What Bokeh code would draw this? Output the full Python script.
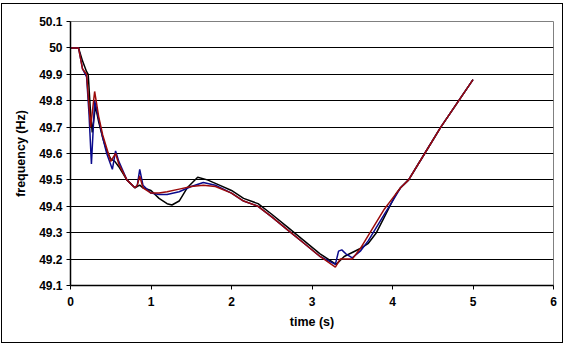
from bokeh.plotting import figure
from bokeh.models import FixedTicker, Range1d
from bokeh.embed import file_html
from bokeh.resources import INLINE

# ---- data ----
t_black = [0, 0.1, 0.15, 0.2, 0.22, 0.25, 0.27, 0.31, 0.35, 0.4, 0.45, 0.5, 0.55, 0.6, 0.7, 0.8, 0.86, 0.9,
           1.0, 1.1, 1.2, 1.26, 1.35, 1.45, 1.58, 1.7, 1.85, 2.0, 2.15, 2.33, 2.5, 2.7, 2.9, 3.1, 3.3,
           3.4, 3.5, 3.6, 3.7, 3.8, 3.9, 4.0, 4.05, 4.1, 4.2, 4.4, 4.6, 4.8, 5.0]
f_black = [50, 50, 49.95, 49.91, 49.9, 49.75, 49.68, 49.78, 49.72, 49.66, 49.61, 49.58, 49.57, 49.55, 49.5,
           49.47, 49.48, 49.47, 49.46, 49.43, 49.41, 49.405, 49.42, 49.47, 49.51, 49.5, 49.48, 49.46, 49.43,
           49.41, 49.37, 49.32, 49.27, 49.22, 49.18, 49.21, 49.225, 49.24, 49.26, 49.3, 49.36, 49.42, 49.45,
           49.47, 49.5, 49.6, 49.7, 49.79, 49.88]

t_blue = [0, 0.1, 0.15, 0.2, 0.23, 0.26, 0.3, 0.35, 0.4, 0.45, 0.52, 0.56, 0.6, 0.7, 0.8, 0.83, 0.86, 0.9,
          1.0, 1.1, 1.2, 1.35, 1.5, 1.65, 1.8, 2.0, 2.15, 2.33, 2.5, 2.7, 2.9, 3.1, 3.29, 3.33, 3.37, 3.42,
          3.5, 3.6, 3.7, 3.8, 3.9, 4.0, 4.1, 4.2, 4.4, 4.6, 4.8, 5.0]
f_blue = [50, 50, 49.92, 49.89, 49.75, 49.56, 49.8, 49.73, 49.66, 49.6, 49.54, 49.61, 49.57, 49.5, 49.47,
          49.48, 49.54, 49.48, 49.45, 49.445, 49.445, 49.455, 49.475, 49.49, 49.48, 49.45, 49.42, 49.4,
          49.36, 49.31, 49.26, 49.21, 49.18, 49.23, 49.235, 49.22, 49.205, 49.23, 49.27, 49.32, 49.37,
          49.42, 49.47, 49.5, 49.6, 49.7, 49.79, 49.88]

t_red = [0, 0.1, 0.15, 0.2, 0.25, 0.3, 0.35, 0.4, 0.45, 0.5, 0.56, 0.6, 0.7, 0.8, 0.83, 0.86, 0.9, 1.0,
         1.1, 1.2, 1.35, 1.5, 1.65, 1.8, 2.0, 2.15, 2.33, 2.5, 2.7, 2.9, 3.1, 3.29, 3.35, 3.45, 3.5, 3.6,
         3.7, 3.8, 3.9, 4.0, 4.1, 4.2, 4.4, 4.6, 4.8, 5.0]
f_red = [50, 50, 49.92, 49.9, 49.7, 49.835, 49.74, 49.67, 49.62, 49.57, 49.6, 49.56, 49.5, 49.47, 49.48,
         49.515, 49.47, 49.45, 49.45, 49.455, 49.465, 49.475, 49.48, 49.475, 49.45, 49.42, 49.4, 49.36,
         49.31, 49.26, 49.21, 49.17, 49.2, 49.2, 49.2, 49.24, 49.29, 49.34, 49.39, 49.43, 49.47, 49.5,
         49.6, 49.7, 49.79, 49.88]

x_ticks = [0, 1, 2, 3, 4, 5, 6]
y_ticks = [49.1, 49.2, 49.3, 49.4, 49.5, 49.6, 49.7, 49.8, 49.9, 50.0, 50.1]
y_tick_labels = ["49.1", "49.2", "49.3", "49.4", "49.5", "49.6", "49.7", "49.8", "49.9", "50", "50.1"]

p = figure(width=562, height=340, output_backend="svg", toolbar_location=None,
           x_range=Range1d(0, 6), y_range=Range1d(49.1, 50.1),
           min_border_left=68, min_border_right=11, min_border_top=17, min_border_bottom=59)
p.styles = {"border": "1px solid black", "box-sizing": "border-box",
            "margin-left": "1px", "margin-top": "3px"}

p.line(t_black, f_black, line_color="black", line_width=1.5)
p.line(t_blue, f_blue, line_color="#0a0a8c", line_width=1.5)
p.line(t_red, f_red, line_color="#9b0a0a", line_width=1.5)

p.xgrid.visible = False
p.ygrid.ticker = FixedTicker(ticks=y_ticks)
p.ygrid.grid_line_color = "black"
p.ygrid.grid_line_width = 1
p.outline_line_color = "#808080"

p.xaxis.ticker = FixedTicker(ticks=x_ticks)
p.yaxis.ticker = FixedTicker(ticks=y_ticks)
p.yaxis.major_label_overrides = {v: s for v, s in zip(y_ticks, y_tick_labels)}
for ax in (p.xaxis, p.yaxis):
    ax.axis_line_color = "black"
    ax.axis_line_width = 1.5
    ax.major_tick_line_color = "black"
    ax.major_tick_out = 4
    ax.major_tick_in = 0
    ax.minor_tick_line_color = None
    ax.major_label_text_font = "Liberation Sans"
    ax.major_label_text_font_style = "bold"
    ax.major_label_text_font_size = "12px"
    ax.major_label_text_color = "black"
    ax.axis_label_text_font = "Liberation Sans"
    ax.axis_label_text_font_style = "bold"
    ax.axis_label_text_font_size = "12.5px"
    ax.axis_label_text_color = "black"
p.xaxis.axis_label = "time (s)"
p.yaxis.axis_label = "frequency (Hz)"
p.xaxis.major_label_standoff = 7
p.xaxis.axis_label_standoff = 6
p.yaxis.major_label_standoff = 4
p.yaxis.axis_label_standoff = 8

open("out.html", "w").write(file_html(p, INLINE))
